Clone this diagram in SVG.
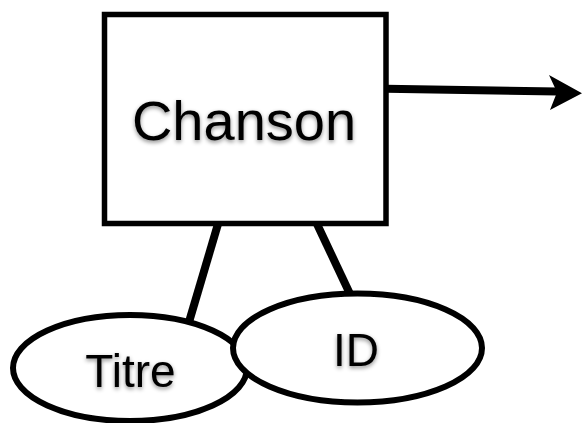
<svg xmlns="http://www.w3.org/2000/svg" width="582" height="423" viewBox="0 0 582 423">
  <defs>
    <filter id="shadow" x="-10%" y="-20%" width="120%" height="150%">
      <feDropShadow dx="0" dy="2" stdDeviation="2" flood-color="#000" flood-opacity="0.45"/>
    </filter>
  </defs>
  <style>
    .shape { fill: #fff; stroke: #000; }
    .conn { stroke: #000; stroke-width: 8; fill: none; }
    .label { font-family: "Liberation Sans", Arial, sans-serif; fill: #000; text-anchor: middle; filter: url(#shadow); }
  </style>
  <rect width="582" height="423" fill="#fff"/>
  <g id="connectors">
    <line class="conn" x1="218" y1="224" x2="189" y2="322"/>
    <line class="conn" x1="317" y1="224" x2="350" y2="294"/>
    <line class="conn" x1="386" y1="88.8" x2="558" y2="91.6"/>
    <polygon points="549,75 582,93.3 550,110 557,92.3" fill="#000"/>
  </g>
  <g id="node-chanson">
    <rect class="shape" x="104.5" y="14.5" width="281.5" height="209" stroke-width="5.5"/>
    <text class="label" x="244" y="140" font-size="56">Chanson</text>
  </g>
  <g id="node-titre">
    <ellipse class="shape" cx="130" cy="368" rx="117" ry="53" stroke-width="6"/>
    <text class="label" x="130.5" y="387" font-size="46">Titre</text>
  </g>
  <g id="node-id">
    <ellipse class="shape" cx="357.5" cy="348" rx="124.5" ry="54.5" stroke-width="6"/>
    <text class="label" x="356" y="366" font-size="46">ID</text>
  </g>
</svg>
